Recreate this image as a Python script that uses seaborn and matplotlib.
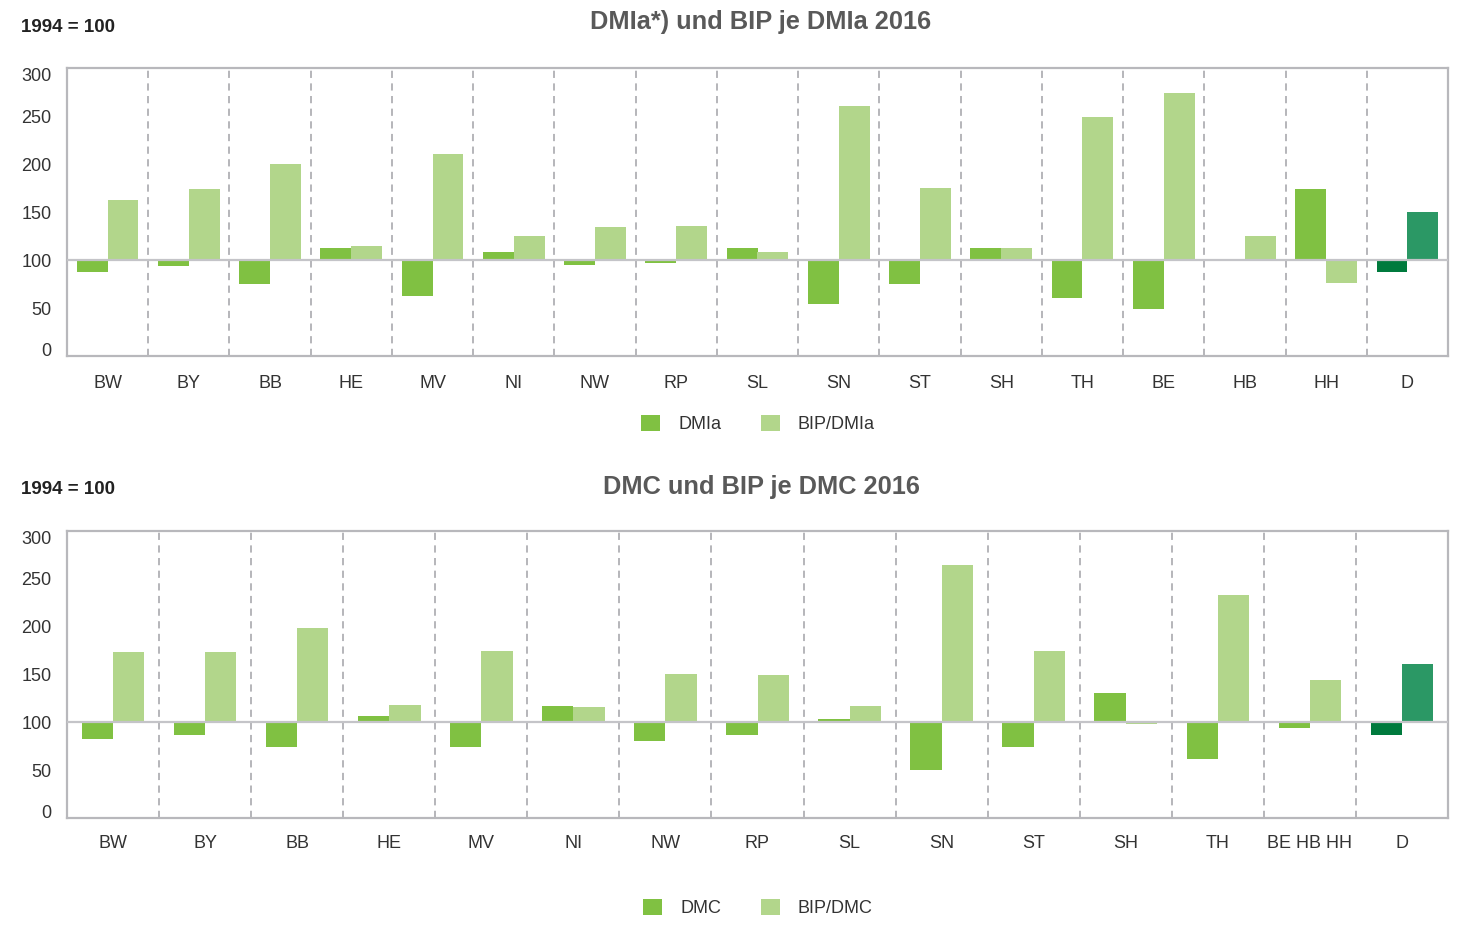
import matplotlib
matplotlib.use("Agg")
import matplotlib.pyplot as plt
import seaborn as sns
import pandas as pd
from matplotlib.patches import Patch
from matplotlib.ticker import FixedLocator, FixedFormatter

# ---------------- data (index 1994 = 100) ----------------
cats1 = ["BW", "BY", "BB", "HE", "MV", "NI", "NW", "RP", "SL", "SN", "ST", "SH",
         "TH", "BE", "HB", "HH", "D"]
dmia = [87, 94, 75, 112, 62, 108, 95, 97, 112, 54, 75, 112, 60, 49, 101, 174, 88]
bip_dmia = [163, 174, 200, 115, 210, 125, 134, 135, 108, 260, 175, 112, 249, 274, 125, 76, 150]

cats2 = ["BW", "BY", "BB", "HE", "MV", "NI", "NW", "RP", "SL", "SN", "ST", "SH",
         "TH", "BE HB HH", "D"]
dmc = [83, 87, 74, 107, 74, 117, 81, 87, 104, 50, 74, 131, 62, 94, 87]
bip_dmc = [173, 174, 199, 118, 175, 116, 150, 149, 117, 264, 175, 98, 233, 144, 161]

titles = ["DMIa*) und BIP je DMIa 2016", "DMC und BIP je DMC 2016"]
series_names = [("DMIa", "BIP/DMIa"), ("DMC", "BIP/DMC")]
base_label = "1994 = 100"
yticks = [0, 50, 100, 150, 200, 250, 300]

# ---------------- style ----------------
sns.set_theme(style="white")
plt.rcParams["font.family"] = ["Liberation Sans", "DejaVu Sans"]

C_MAIN = "#80c142"
C_LIGHT = "#b2d68b"
C_D_MAIN = "#007a3d"
C_D_LIGHT = "#2b9865"
C_GRID = "#b8b8bc"
C_TEXT = "#333333"
C_TITLE = "#595959"

W, H = 1477, 925
fig = plt.figure(figsize=(W / 100, H / 100), dpi=100)

panels = [
    dict(cats=cats1, a=dmia, b=bip_dmia, top=68, bot=356, width=0.76,
         title_y=22, base_y=27, leg_y=422, xpad=13.5),
    dict(cats=cats2, a=dmc, b=bip_dmc, top=531, bot=818, width=0.68,
         title_y=487, base_y=490, leg_y=906, xpad=12.0),
]

for p, title, (na, nb) in zip(panels, titles, series_names):
    left, right = 67, 1448
    ax = fig.add_axes([left / W, 1 - p["bot"] / H, (right - left) / W,
                       (p["bot"] - p["top"]) / H])
    n = len(p["cats"])
    df = pd.DataFrame({
        "cat": p["cats"] * 2,
        "series": [na] * n + [nb] * n,
        "value": list(p["a"]) + list(p["b"]),
    })
    df["dev"] = df["value"] - 100
    sns.barplot(data=df, x="cat", y="dev", hue="series", order=p["cats"],
                hue_order=[na, nb], palette=[C_MAIN, C_LIGHT], width=p["width"],
                saturation=1, errorbar=None, legend=False, ax=ax, zorder=2,
                linewidth=0)
    # recolor D (Germany) bars
    ax.containers[0].patches[-1].set_facecolor(C_D_MAIN)
    ax.containers[1].patches[-1].set_facecolor(C_D_LIGHT)

    ax.set_xlim(-0.5, n - 0.5)
    ax.set_ylim(-100, 200)
    ax.yaxis.set_major_locator(FixedLocator([t - 100 for t in yticks]))
    ax.yaxis.set_major_formatter(FixedFormatter([str(t) for t in yticks]))
    ax.tick_params(axis="both", length=0, labelsize=13, labelcolor=C_TEXT)
    ax.tick_params(axis="y", pad=11)
    ax.tick_params(axis="x", pad=p["xpad"])
    labs = ax.get_yticklabels()
    labs[0].set_va("baseline")
    labs[-1].set_va("top")
    ax.set_xlabel("")
    ax.set_ylabel("")
    for i in range(n - 1):
        ax.axvline(i + 0.5, color="#b0b0b4", lw=1.3, ls=(0, (4, 3)), zorder=1)
    ax.axhline(0, color="#c4c4c8", lw=1.6, zorder=3)
    for s in ax.spines.values():
        s.set_color(C_GRID)
        s.set_linewidth(1.6)
        s.set_visible(True)

    fig.text(761 / W, 1 - p["title_y"] / H, title, ha="center", va="center",
             fontsize=18.3, fontweight="bold", color=C_TITLE)
    fig.text(21 / W, 1 - p["base_y"] / H, base_label, ha="left", va="center",
             fontsize=13.5, fontweight="bold", color="#222222")

    handles = [Patch(facecolor=C_MAIN, edgecolor="none", label=na),
               Patch(facecolor=C_LIGHT, edgecolor="none", label=nb)]
    fig.legend(handles=handles, loc="center", ncol=2,
               bbox_to_anchor=(758 / W, 1 - (p["leg_y"] + 2) / H), frameon=False,
               fontsize=13, handlelength=1.05, handleheight=1.05,
               handletextpad=1.0, columnspacing=2.2, labelcolor=C_TEXT)

fig.savefig("out.png", dpi=100, facecolor="white")
